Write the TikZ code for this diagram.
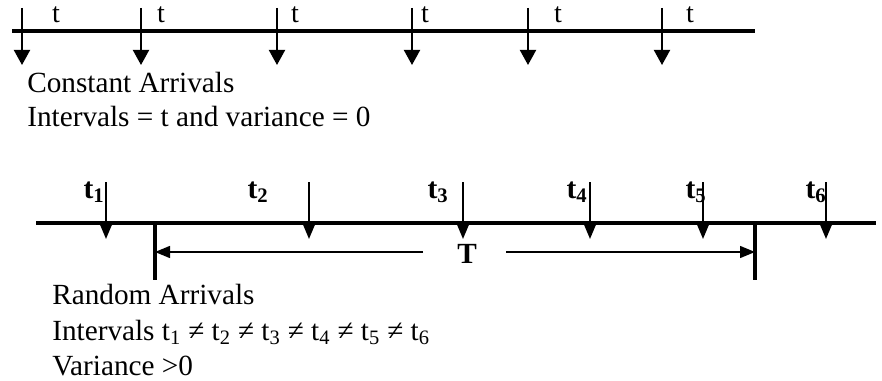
\documentclass[tikz,border=0pt]{standalone}
\usepackage{fontspec}
\setmainfont{Liberation Serif}
\usetikzlibrary{arrows.meta}

\begin{document}
\begin{tikzpicture}[x=0.025cm, y=-0.025cm,
    timeline/.style={line width=2.8pt},
    carrow/.style={line width=1.4pt, -{Triangle[width=0.4cm, length=0.375cm]}},
    rarrow/.style={line width=1.4pt, -{Triangle[width=0.3cm, length=0.375cm]}},
    bar/.style={line width=2.3pt},
    span/.style={line width=1pt, -{Triangle[width=0.3cm, length=0.375cm]}},
    txt/.style={anchor=base west, inner sep=0pt, font=\fontsize{20.8}{25}\selectfont},
    tlab/.style={anchor=base, inner sep=0pt, font=\fontsize{20}{24}\selectfont},
    blab/.style={anchor=base, inner sep=0pt, font=\fontsize{21}{25}\selectfont\bfseries}]
  \useasboundingbox (0,0) rectangle (882,381);
  % Constant arrivals
  \coordinate (cl) at (12,31);
  \coordinate (cr) at (755,31);
  \draw[timeline] (cl) -- (cr);
  \foreach \x [count=\i] in {22,141,277,412,528,662} {
    \coordinate (c\i top) at (\x,8);
    \coordinate (c\i tip) at (\x,65);
    \draw[carrow] (c\i top) -- (c\i tip);
  }
  \foreach \x [count=\i] in {56,161,295,425,558,690} {
    \node[tlab] (ct\i) at (\x,23) {t};
  }
  \node[txt] (ctitle) at (27,93) {Constant Arrivals};
  \node[txt] (cnote) at (27,127) {Intervals = t and variance = 0};
  % Random arrivals
  \coordinate (rl) at (36,223);
  \coordinate (rr) at (876,223);
  \draw[timeline] (rl) -- (rr);
  \foreach \x [count=\i] in {106,309,463,590,703,826} {
    \coordinate (r\i top) at (\x,182);
    \coordinate (r\i tip) at (\x,239);
    \draw[rarrow] (r\i top) -- (r\i tip);
  }
  \foreach \x [count=\i] in {94,258,438,577,696,816} {
    \node[blab] (rt\i) at (\x,198) {t\textsubscript{\i}};
  }
  % Span T
  \coordinate (ba) at (155,224);
  \coordinate (bb) at (155,280);
  \coordinate (bc) at (755,224);
  \coordinate (bd) at (755,280);
  \draw[bar] (ba) -- (bb);
  \draw[bar] (bc) -- (bd);
  \coordinate (sl) at (155,252);
  \coordinate (sr) at (755,252);
  \coordinate (sa) at (423,252);
  \coordinate (sb) at (506,252);
  \draw[span] (sa) -- (sl);
  \draw[span] (sb) -- (sr);
  \node[anchor=base, inner sep=0pt, font=\fontsize{20.8}{25}\selectfont\bfseries] (T) at (467,263) {T};
  \node[txt] (rtitle) at (52,304) {Random Arrivals};
  \node[txt] (rnote) at (52,340) {Intervals t\textsubscript{1} ≠ t\textsubscript{2} ≠ t\textsubscript{3} ≠ t\textsubscript{4} ≠ t\textsubscript{5} ≠ t\textsubscript{6}};
  \node[txt] (rvar) at (52,375) {Variance >0};
\end{tikzpicture}
\end{document}
